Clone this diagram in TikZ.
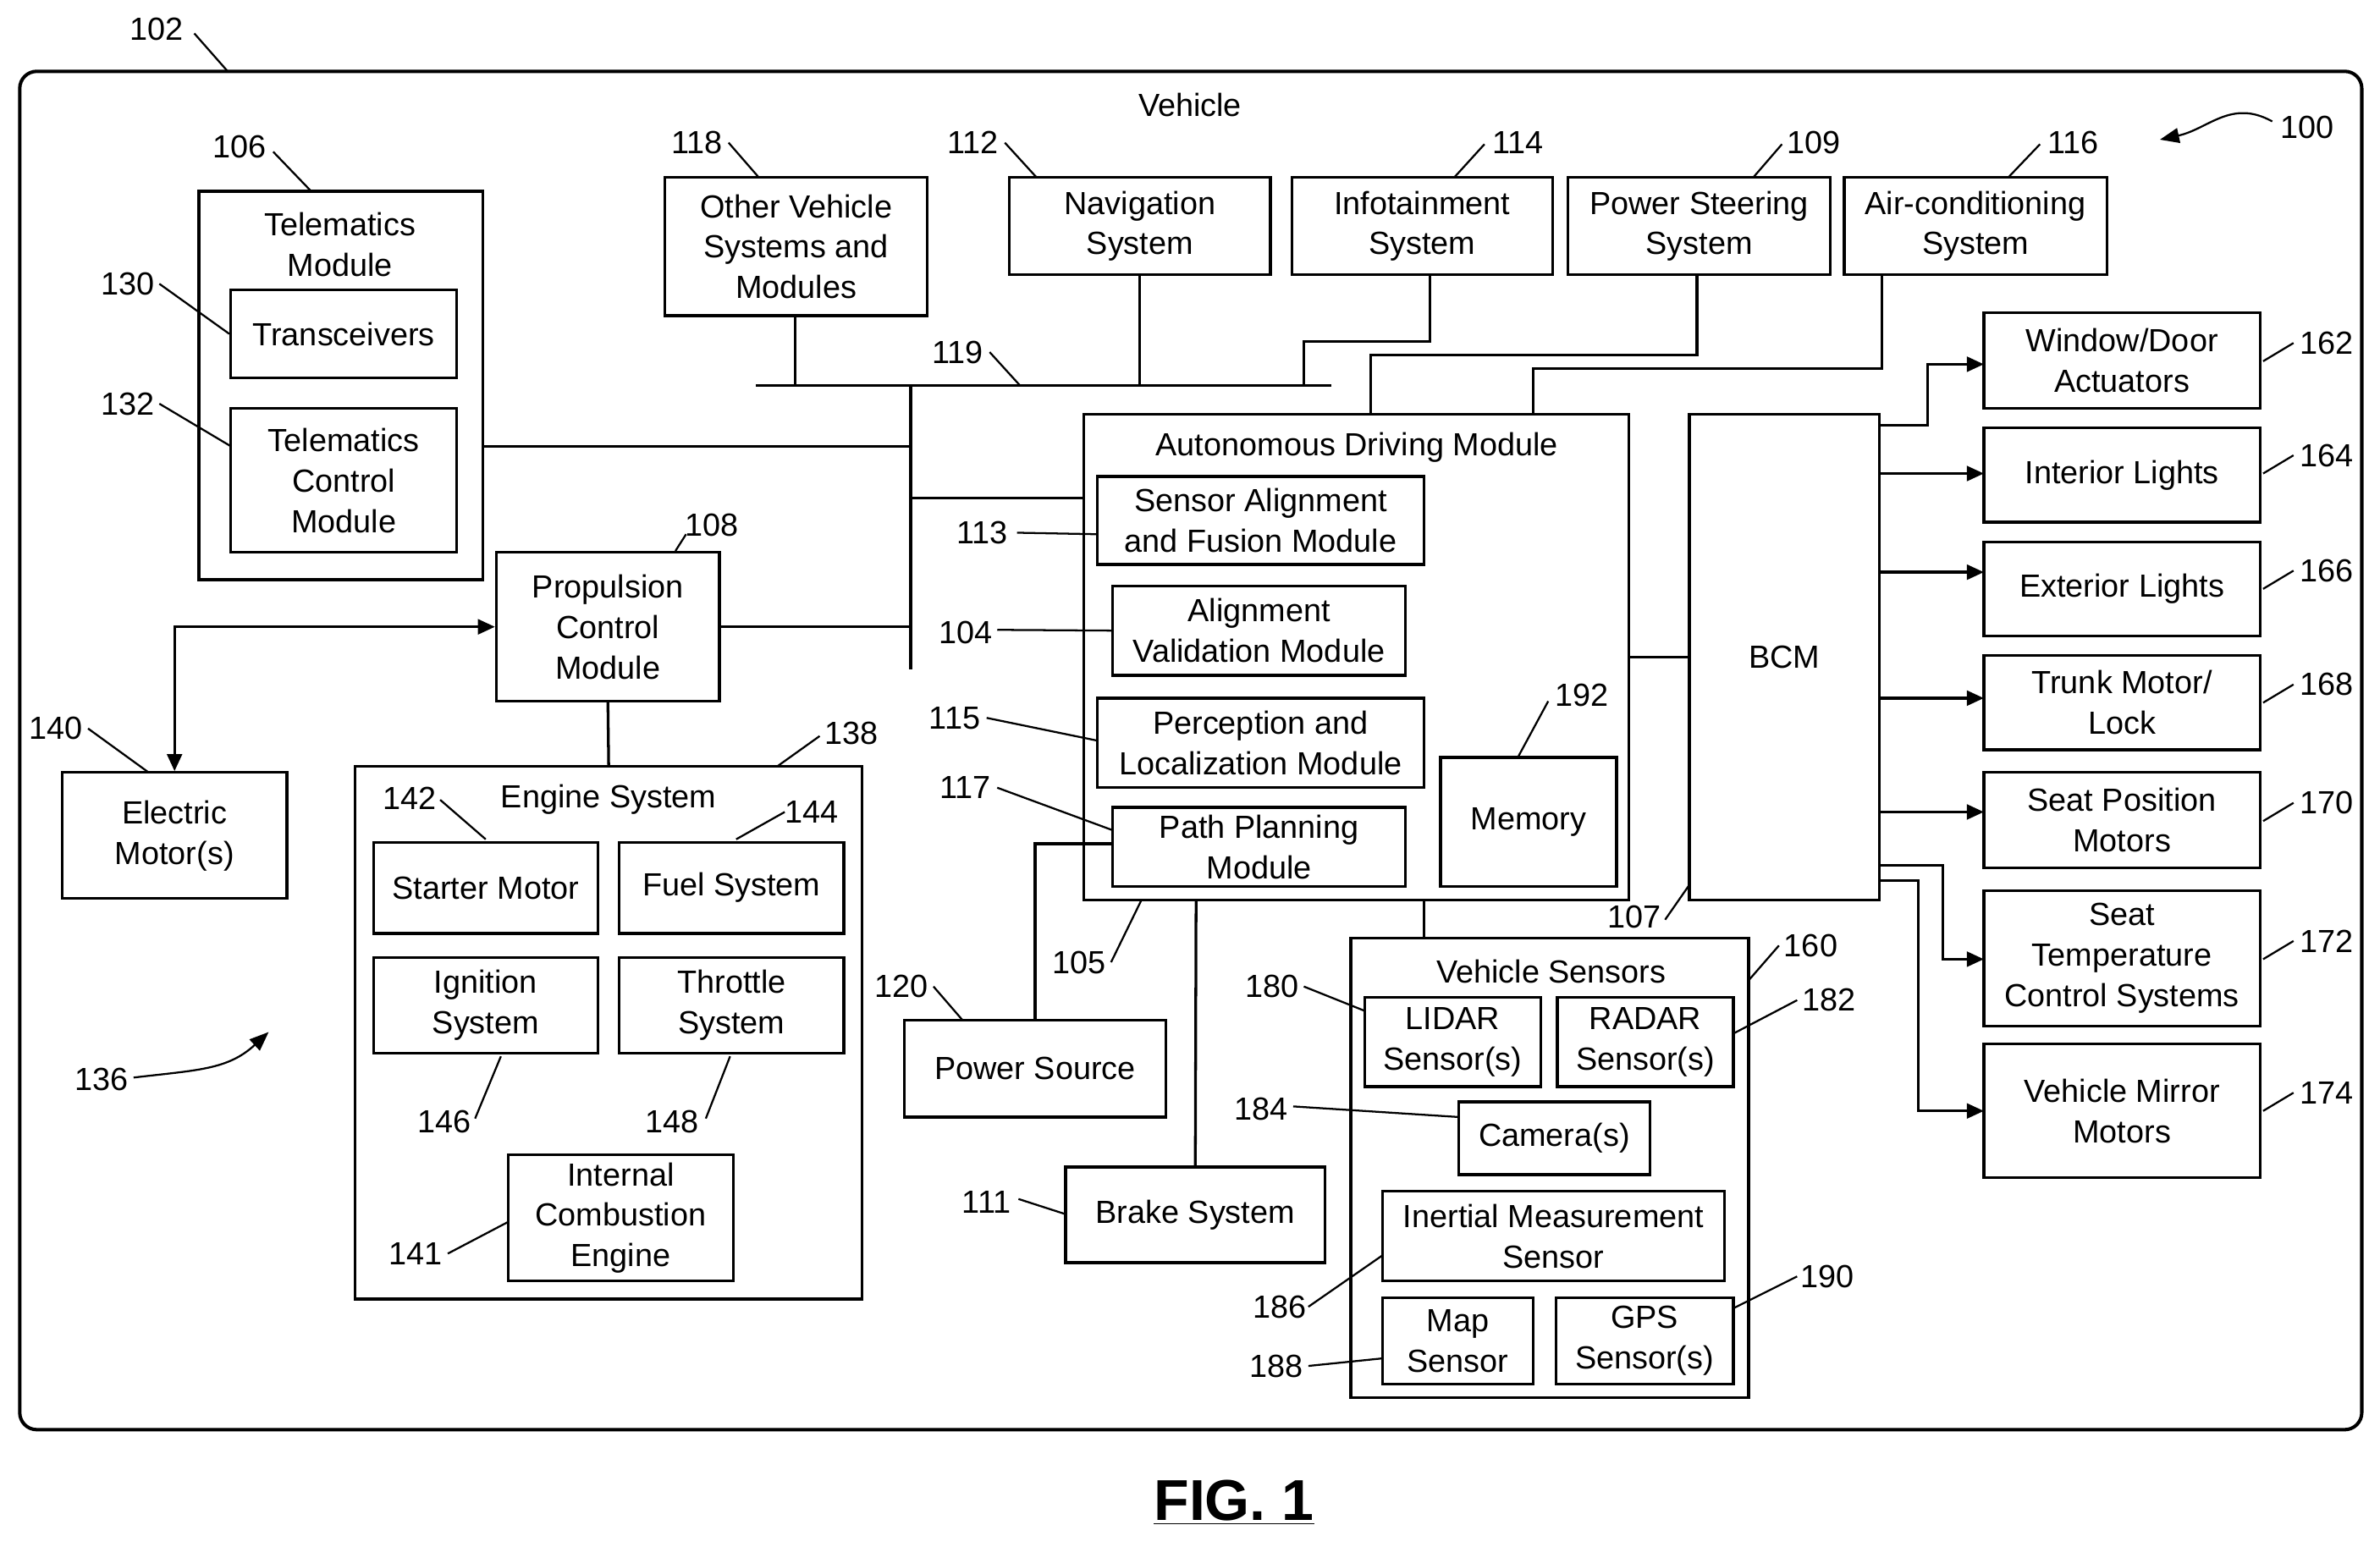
\documentclass[tikz,border=0pt]{standalone}
\usepackage{fontspec}
\setmainfont{Liberation Sans}
\usetikzlibrary{calc}
\usetikzlibrary{arrows.meta}

\tikzset{
  box/.style={draw,line width=1.3pt,align=center,inner sep=0pt,
    font=\fontsize{15}{19}\selectfont},
  lbl/.style={inner sep=1pt,font=\fontsize{15}{19}\selectfont},
  ttl/.style={inner sep=0pt,align=center,font=\fontsize{15}{19}\selectfont},
  wire/.style={line width=1.3pt},
  lead/.style={line width=0.9pt},
  arr/.style={line width=1.3pt,-{Triangle[length=8pt,width=7pt]}}
}
% box from corner to corner
\newcommand\bx[6]{\node[box,minimum width={((#4)-(#2))*0.025cm},
  minimum height={((#5)-(#3))*0.025cm}] (#1) at ({((#2)+(#4))/2},{((#3)+(#5))/2}) {#6};}

\begin{document}
\begin{tikzpicture}[x=0.025cm,y=-0.025cm]
\useasboundingbox (0,0) rectangle (1568,1019);
\fill[white] (0,0) rectangle (1568,1019);
\draw[line width=1.6pt,rounded corners=8pt] (13,47) rectangle (1556,942);
\node[ttl] (veh) at (784,69) {Vehicle};
\node[lbl] (l102) at (103,19) {102};
\draw[lead] (128,22) -- (150,47);
\node[lbl] (l100) at (1520,84) {100};
\draw[lead,-{Triangle[length=9pt,width=7pt]}] (1497,80) .. controls (1470,65) and (1455,85) .. (1423,92);

% telematics
\bx{tm}{131}{126}{318}{382}{}
\node[ttl] at (224,161) {Telematics\\Module};
\bx{trx}{152}{191}{301}{249}{Transceivers}
\bx{tcm}{152}{269}{301}{364}{Telematics\\Control\\Module}
\node[lbl] (l106) at (158,97) {106}; \draw[lead] (180,100) -- (205,126);
\node[lbl] (l130) at (84,187) {130}; \draw[lead] (105,187) -- (trx.west);
\node[lbl] (l132) at (84,266) {132}; \draw[lead] (105,266) -- (152,294);

% propulsion
\bx{pcm}{327}{364}{474}{462}{Propulsion\\Control\\Module}
\node[lbl] (l108) at (469,346) {108}; \draw[lead] (445,363) -- (452,352);
\bx{em}{41}{509}{189}{592}{Electric\\Motor(s)}
\node[lbl] (l140) at (37,480) {140}; \draw[lead] (58,480) -- (98,509);
\draw[line width=1.3pt,{Triangle[length=8pt,width=7pt]}-{Triangle[length=8pt,width=7pt]}]
  (pcm.west) -- (115,413) -- (em.north);

% engine
\bx{eng}{234}{505}{568}{856}{}
\node[ttl] at (401,527) {Engine System};
\draw[wire] (pcm.south) -- (eng.north);
\node[lbl] (l138) at (561,483) {138}; \draw[lead] (512,505) -- (540,485);
\bx{stm}{246}{555}{394}{615}{Starter Motor}
\bx{fuel}{408}{555}{556}{615}{Fuel System}
\bx{ign}{246}{631}{394}{694}{Ignition\\System}
\bx{thr}{408}{631}{556}{694}{Throttle\\System}
\bx{ice}{335}{761}{483}{844}{Internal\\Combustion\\Engine}
\node[lbl] (l142) at (270,526) {142}; \draw[lead] (290,527) -- (320,553);
\node[lbl] (l144) at (535,535) {144}; \draw[lead] (517,535) -- (485,553);
\node[lbl] (l146) at (293,739) {146}; \draw[lead] (313,737) -- (330,696);
\node[lbl] (l148) at (443,739) {148}; \draw[lead] (465,737) -- (481,696);
\node[lbl] (l141) at (274,826) {141}; \draw[lead] (295,826) -- (335,805);
\node[lbl] (l136) at (67,711) {136};
\draw[lead,-{Triangle[length=9pt,width=7pt]}] (88,710) .. controls (130,705) and (150,705) .. (177,680);

% bus 119
\coordinate (busL) at (498,254); \coordinate (busR) at (877,254);
\draw[wire] (busL) -- (busR);
\draw[wire] (600,254) -- (600,441);
\node[lbl] (l119) at (631,232) {119}; \draw[lead] (652,232) -- (672,254);
\bx{ovs}{438}{117}{611}{208}{Other Vehicle\\Systems and\\Modules}
\bx{nav}{665}{117}{837}{181}{Navigation\\System}
\bx{inf}{851}{117}{1023}{181}{Infotainment\\System}
\bx{pss}{1033}{117}{1206}{181}{Power Steering\\System}
\bx{acs}{1215}{117}{1388}{181}{Air-conditioning\\System}
\draw[wire] (524,208) -- (524,254);
\draw[wire] (nav.south) -- (751,254);
\draw[wire] (942,181) -- (942,225) -- (859,225) -- (859,254);
\node[lbl] (l118) at (459,94) {118}; \draw[lead] (480,94) -- (500,117);
\node[lbl] (l112) at (641,94) {112}; \draw[lead] (662,94) -- (683,117);
\node[lbl] (l114) at (1000,94) {114}; \draw[lead] (978,95) -- (958,117);
\node[lbl] (l109) at (1195,94) {109}; \draw[lead] (1174,95) -- (1155,117);
\node[lbl] (l116) at (1366,94) {116}; \draw[lead] (1344,95) -- (1323,117);
\draw[wire] (318,294) -- (600,294);
\draw[wire] (pcm.east) -- (600,413);

% autonomous driving module
\bx{adm}{714}{273}{1073}{593}{}
\node[ttl] at (894,295) {Autonomous Driving Module};
\draw[wire] (1118,181) -- (1118,234) -- (903,234) -- (903,273);
\draw[wire] (1240,181) -- (1240,243) -- (1010,243) -- (1010,273);
\draw[wire] (600,328) -- (714,328);
\bx{saf}{723}{314}{938}{372}{Sensor Alignment\\and Fusion Module}
\bx{avm}{733}{386}{926}{445}{Alignment\\Validation Module}
\bx{plm}{723}{460}{938}{519}{Perception and\\Localization Module}
\bx{ppm}{733}{532}{926}{584}{Path Planning\\Module}
\bx{mem}{949}{499}{1065}{584}{Memory}
\node[lbl] (l113) at (647,351) {113}; \draw[lead] (670,351) -- (723,352);
\node[lbl] (l104) at (636,417) {104}; \draw[lead] (657,415) -- (avm.west);
\node[lbl] (l115) at (629,473) {115}; \draw[lead] (650,473) -- (723,488);
\node[lbl] (l117) at (636,519) {117}; \draw[lead] (657,519) -- (733,547);
\node[lbl] (l192) at (1042,458) {192}; \draw[lead] (1020,462) -- (1000,499);
\node[lbl] (l105) at (711,634) {105}; \draw[lead] (732,634) -- (752,593);

\bx{pwr}{596}{672}{768}{736}{Power Source}
\draw[wire] (pwr.north) -- (682,556) -- (733,556);
\node[lbl] (l120) at (594,650) {120}; \draw[lead] (615,650) -- (634,672);
\bx{brk}{702}{769}{873}{832}{Brake System}
\draw[wire] (brk.north) -- (788,593);
\node[lbl] (l111) at (650,792) {111}; \draw[lead] (671,790) -- (702,800);

% BCM
\bx{bcm}{1113}{273}{1238}{593}{BCM}
\draw[wire] (1073,433) -- (1113,433);
\node[lbl] (l107) at (1077,604) {107}; \draw[lead] (1097,606) -- (1113,583);

% vehicle sensors
\bx{vs}{890}{618}{1152}{921}{}
\node[ttl] at (1022,640) {Vehicle Sensors};
\draw[wire] (938,593) -- (938,618);
\node[lbl] (l160) at (1193,623) {160}; \draw[lead] (1152,646) -- (1172,623);
\bx{lid}{899}{657}{1015}{716}{LIDAR\\Sensor(s)}
\bx{rad}{1026}{657}{1142}{716}{RADAR\\Sensor(s)}
\bx{cam}{961}{726}{1087}{774}{Camera(s)}
\bx{imu}{911}{785}{1136}{844}{Inertial Measurement\\Sensor}
\bx{map}{911}{855}{1010}{912}{Map\\Sensor}
\bx{gps}{1025}{855}{1142}{912}{GPS\\Sensor(s)}
\node[lbl] (l180) at (838,650) {180}; \draw[lead] (859,650) -- (899,666);
\node[lbl] (l182) at (1205,659) {182}; \draw[lead] (1184,659) -- (1142,681);
\node[lbl] (l184) at (831,731) {184}; \draw[lead] (852,729) -- (961,736);
\node[lbl] (l186) at (843,861) {186}; \draw[lead] (862,861) -- (911,827);
\node[lbl] (l188) at (841,900) {188}; \draw[lead] (862,900) -- (911,895);
\node[lbl] (l190) at (1204,841) {190}; \draw[lead] (1184,841) -- (1142,862);

% body actuators
\bx{wda}{1307}{206}{1489}{269}{Window/Door\\Actuators}
\bx{inl}{1307}{282}{1489}{344}{Interior Lights}
\bx{exl}{1307}{357}{1489}{419}{Exterior Lights}
\bx{trk}{1307}{432}{1489}{494}{Trunk Motor/\\Lock}
\bx{spm}{1307}{509}{1489}{572}{Seat Position\\Motors}
\bx{stc}{1307}{587}{1489}{676}{Seat\\Temperature\\Control Systems}
\bx{vmm}{1307}{688}{1489}{776}{Vehicle Mirror\\Motors}
\draw[arr] (1238,280) -- (1270,280) -- (1270,240) -- (1307,240);
\draw[arr] (1238,312) -- (1307,312);
\draw[arr] (1238,377) -- (1307,377);
\draw[arr] (1238,460) -- (1307,460);
\draw[arr] (1238,535) -- (1307,535);
\draw[arr] (1238,570) -- (1280,570) -- (1280,632) -- (1307,632);
\draw[arr] (1238,580) -- (1264,580) -- (1264,732) -- (1307,732);
\foreach \n/\y in {162/226,164/300,166/376,168/451,170/529,172/620,174/720}{
  \node[lbl] (l\n) at (1533,\y) {\n};
  \draw[lead] (1491,\y+12) -- (1511,\y);
}

\node[inner sep=0pt,font=\fontsize{27}{30}\selectfont\bfseries] (fig) at (813,990) {\underline{FIG. 1}};
\end{tikzpicture}
\end{document}
